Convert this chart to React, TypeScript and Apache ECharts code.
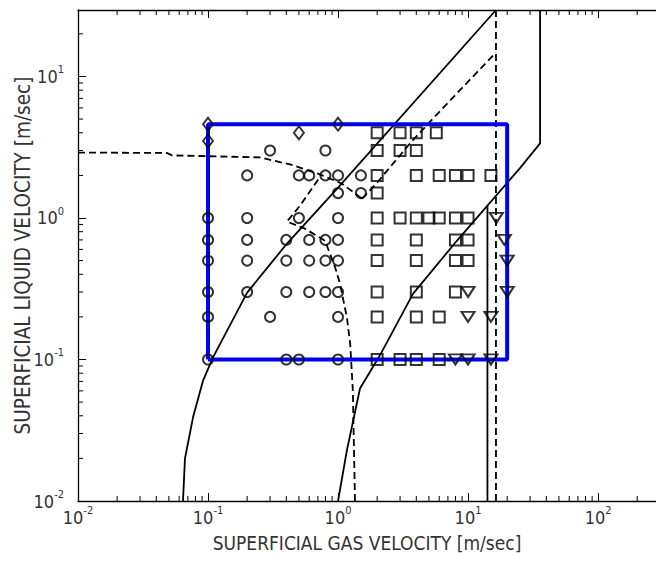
import React, { useEffect, useRef } from "react";
import * as echarts from "echarts";

// Axis ranges (log-log)
const X_MIN = 0.01;
const X_MAX = 279;
const Y_MIN = 0.01;
const Y_MAX = 29.5;

// Minor tick mantissas and decades
const MANTISSAS = [2, 3, 4, 5, 6, 7, 8, 9];
const X_DECADES = [0.01, 0.1, 1, 10, 100];
const Y_DECADES = [0.01, 0.1, 1, 10];

// Blue operating window
const WINDOW_X = [0.1, 20];
const WINDOW_Y = [0.1, 4.6];

// Transition curves (solid)
const SOLID_A = [
  [0.0642, 0.01], [0.0665, 0.02], [0.0767, 0.039], [0.0916, 0.071], [0.109, 0.103],
  [0.2, 0.297], [0.405, 0.66], [1, 1.64], [16.4, 29.5],
];
const SOLID_B = [
  [1.0, 0.01], [1.17, 0.0228], [1.476, 0.0624], [2.1, 0.107], [3.78, 0.292],
  [8.2, 0.69], [25, 2.24], [35.8, 3.37], [35.8, 29.5],
];
const SOLID_V = [[14.1, 0.01], [14.1, 1.22]];

// Transition curves (dashed)
const DASH_D = [
  [0.01, 2.9], [0.0484, 2.88], [0.0528, 2.77], [0.25, 2.68], [0.428, 2.39],
  [0.7, 2.06], [1.07, 1.75], [1.53, 1.37],
];
const DASH_C = [
  [1.35, 0.01], [1.3, 0.06], [1.24, 0.13], [1.17, 0.198], [1.035, 0.344],
  [0.95, 0.447], [0.795, 0.69], [0.557, 0.84], [0.405, 0.944], [0.51, 1.22],
  [0.728, 1.96],
];
const DASH_DIAG = [[1.53, 1.37], [2.0, 1.78], [3.58, 3.37], [5.38, 5.05], [16.4, 14.8]];
const DASH_V = [[16.4, 0.01], [16.4, 29.5]];

// Experimental points
const DIAMONDS = [[0.1, 4.6], [0.1, 3.5], [0.5, 4.0], [1.0, 4.6]];
const CIRCLES = [
  [0.3, 3], [0.8, 3],
  [0.2, 2], [0.5, 2], [0.6, 2], [0.8, 2], [1.0, 2], [1.5, 2],
  [1.0, 1.5], [1.5, 1.5],
  [0.1, 1], [0.2, 1], [0.5, 1], [1.0, 1],
  [0.1, 0.7], [0.2, 0.7], [0.4, 0.7], [0.6, 0.7], [0.8, 0.7], [1.0, 0.7],
  [0.1, 0.5], [0.2, 0.5], [0.4, 0.5], [0.6, 0.5], [0.8, 0.5], [1.0, 0.5],
  [0.1, 0.3], [0.2, 0.3], [0.4, 0.3], [0.6, 0.3], [0.8, 0.3], [1.0, 0.3],
  [0.1, 0.2], [0.3, 0.2], [1.0, 0.2],
  [0.1, 0.1], [0.4, 0.1], [0.5, 0.1], [1.0, 0.1],
];
const SQUARES = [
  [2, 4], [3, 4], [4, 4], [5.7, 4],
  [2, 3], [3, 3], [4, 3],
  [2, 2], [4, 2], [6, 2], [8, 2], [10, 2], [15, 2],
  [2, 1.5],
  [2, 1], [3, 1], [4, 1], [5, 1], [6, 1], [8, 1], [10, 1],
  [2, 0.7], [4, 0.7], [8, 0.7], [10, 0.7],
  [2, 0.5], [4, 0.5], [8, 0.5], [10, 0.5],
  [2, 0.3], [4, 0.3], [8, 0.3],
  [2, 0.2], [4, 0.2], [6, 0.2],
  [2, 0.1], [3, 0.1], [4, 0.1], [6, 0.1],
];
const TRIANGLES = [
  [16.5, 1], [19, 0.7], [20, 0.5],
  [10, 0.3], [20, 0.3],
  [10, 0.2], [15, 0.2],
  [8, 0.1], [10, 0.1], [15, 0.1],
];

const X_NAME = "SUPERFICIAL GAS VELOCITY [m/sec]";
const Y_NAME = "SUPERFICIAL LIQUID VELOCITY [m/sec]";

const FONT = '"Liberation Sans Narrow", "DejaVu Sans Condensed", "Arial Narrow", "Liberation Sans", sans-serif';
const TEXT_COLOR = "#333";

function powLabel(v: number): string {
  const l = Math.log10(v);
  const r = Math.round(l);
  if (Math.abs(l - r) > 1e-6) return "";
  return `{b|10}{e|${r}}`;
}

const richLabel = {
  b: { fontSize: 18, lineHeight: 24, fontFamily: FONT, color: TEXT_COLOR },
  e: { fontSize: 11, lineHeight: 12, fontFamily: FONT, color: TEXT_COLOR, verticalAlign: "top" },
};

export default function App() {
  const ref = useRef<HTMLDivElement>(null);

  useEffect(() => {
    if (!ref.current) return;
    const chart = echarts.init(ref.current, undefined, { renderer: "svg" });

    const xMinor: number[][] = [];
    X_DECADES.forEach((d) => MANTISSAS.forEach((m) => {
      const v = m * d;
      if (v < X_MAX) xMinor.push([v, Y_MIN]);
    }));
    const yMinor: number[][] = [];
    Y_DECADES.forEach((d) => MANTISSAS.forEach((m) => {
      const v = m * d;
      if (v < Y_MAX) yMinor.push([X_MIN, v]);
    }));

    const windowPts = [
      [WINDOW_X[0], WINDOW_Y[0]], [WINDOW_X[0], WINDOW_Y[1]], [WINDOW_X[1], WINDOW_Y[1]],
      [WINDOW_X[1], WINDOW_Y[0]], [WINDOW_X[0], WINDOW_Y[0]],
    ];

    const solid = (data: number[][]) => ({
      type: "line", data, symbol: "none", showSymbol: false, silent: true, z: 3,
      lineStyle: { color: "#000", width: 1.8, type: "solid" },
    });
    const dashed = (data: number[][]) => ({
      type: "line", data, symbol: "none", showSymbol: false, silent: true, z: 3,
      lineStyle: { color: "#000", width: 1.8, type: [7, 4] },
    });
    const hollow = { color: "rgba(0,0,0,0)", borderColor: "#000", borderWidth: 2 };

    chart.setOption({
      animation: false,
      backgroundColor: "#fff",
      grid: { left: 78, top: 10, right: 0, bottom: 61, containLabel: false, outerBoundsMode: "none" },
      xAxis: [
        {
          type: "log", logBase: 10, min: X_MIN, max: X_MAX, position: "bottom",
          name: X_NAME, nameLocation: "middle", nameGap: 32, nameMoveOverlap: false,
          nameTextStyle: { fontFamily: FONT, fontSize: 19, color: TEXT_COLOR },
          axisLine: { show: true, onZero: false, lineStyle: { color: "#000", width: 1.3 } },
          axisTick: { show: true, inside: true, length: 8, lineStyle: { color: "#000", width: 1 } },
          axisLabel: { show: true, margin: 4, formatter: powLabel, rich: richLabel },
          splitLine: { show: false },
        },
        {
          type: "log", logBase: 10, min: X_MIN, max: X_MAX, position: "top",
          axisLine: { show: true, onZero: false, lineStyle: { color: "#000", width: 1.3 } },
          axisTick: { show: true, inside: true, length: 8, lineStyle: { color: "#000", width: 1 } },
          axisLabel: { show: false },
          splitLine: { show: false },
        },
      ],
      yAxis: [
        {
          type: "log", logBase: 10, min: Y_MIN, max: Y_MAX, position: "left",
          name: Y_NAME, nameLocation: "middle", nameGap: 45, nameRotate: 90, nameMoveOverlap: false,
          nameTextStyle: { fontFamily: FONT, fontSize: 20.5, color: TEXT_COLOR },
          axisLine: { show: true, onZero: false, lineStyle: { color: "#000", width: 1.3 } },
          axisTick: { show: true, inside: true, length: 8, lineStyle: { color: "#000", width: 1 } },
          axisLabel: { show: true, margin: 14, formatter: powLabel, rich: richLabel },
          splitLine: { show: false },
        },
      ],
      series: [
        {
          type: "custom", silent: true, z: 2, data: xMinor,
          renderItem: (params: any, api: any) => {
            const cs = params.coordSys;
            const p = api.coord([api.value(0), api.value(1)]);
            const yb = cs.y + cs.height;
            return {
              type: "group",
              children: [
                { type: "line", shape: { x1: p[0], y1: yb, x2: p[0], y2: yb - 5 }, style: { stroke: "#000", lineWidth: 1 } },
                { type: "line", shape: { x1: p[0], y1: cs.y, x2: p[0], y2: cs.y + 5 }, style: { stroke: "#000", lineWidth: 1 } },
              ],
            };
          },
        },
        {
          type: "custom", silent: true, z: 2, data: yMinor,
          renderItem: (params: any, api: any) => {
            const cs = params.coordSys;
            const p = api.coord([api.value(0), api.value(1)]);
            return {
              type: "line",
              shape: { x1: cs.x, y1: p[1], x2: cs.x + 5, y2: p[1] },
              style: { stroke: "#000", lineWidth: 1 },
            };
          },
        },
        {
          type: "line", data: windowPts, symbol: "none", showSymbol: false, silent: true, z: 4,
          lineStyle: { color: "#0000f0", width: 4 },
        },
        solid(SOLID_A),
        solid(SOLID_B),
        solid(SOLID_V),
        dashed(DASH_D),
        dashed(DASH_C),
        dashed(DASH_DIAG),
        dashed(DASH_V),
        { type: "scatter", data: CIRCLES, symbol: "circle", symbolSize: 10, itemStyle: hollow, z: 5, silent: true },
        { type: "scatter", data: SQUARES, symbol: "rect", symbolSize: 11, itemStyle: hollow, z: 5, silent: true },
        { type: "scatter", data: DIAMONDS, symbol: "diamond", symbolSize: [10, 13], itemStyle: hollow, z: 5, silent: true },
        { type: "scatter", data: TRIANGLES, symbol: "triangle", symbolRotate: 180, symbolSize: [13, 10], itemStyle: hollow, z: 5, silent: true },
      ],
    });

    return () => chart.dispose();
  }, []);

  return (
    <div
      ref={ref}
      style={{ position: "fixed", left: 0, top: 0, width: 656, height: 562, background: "#fff" }}
    />
  );
}
